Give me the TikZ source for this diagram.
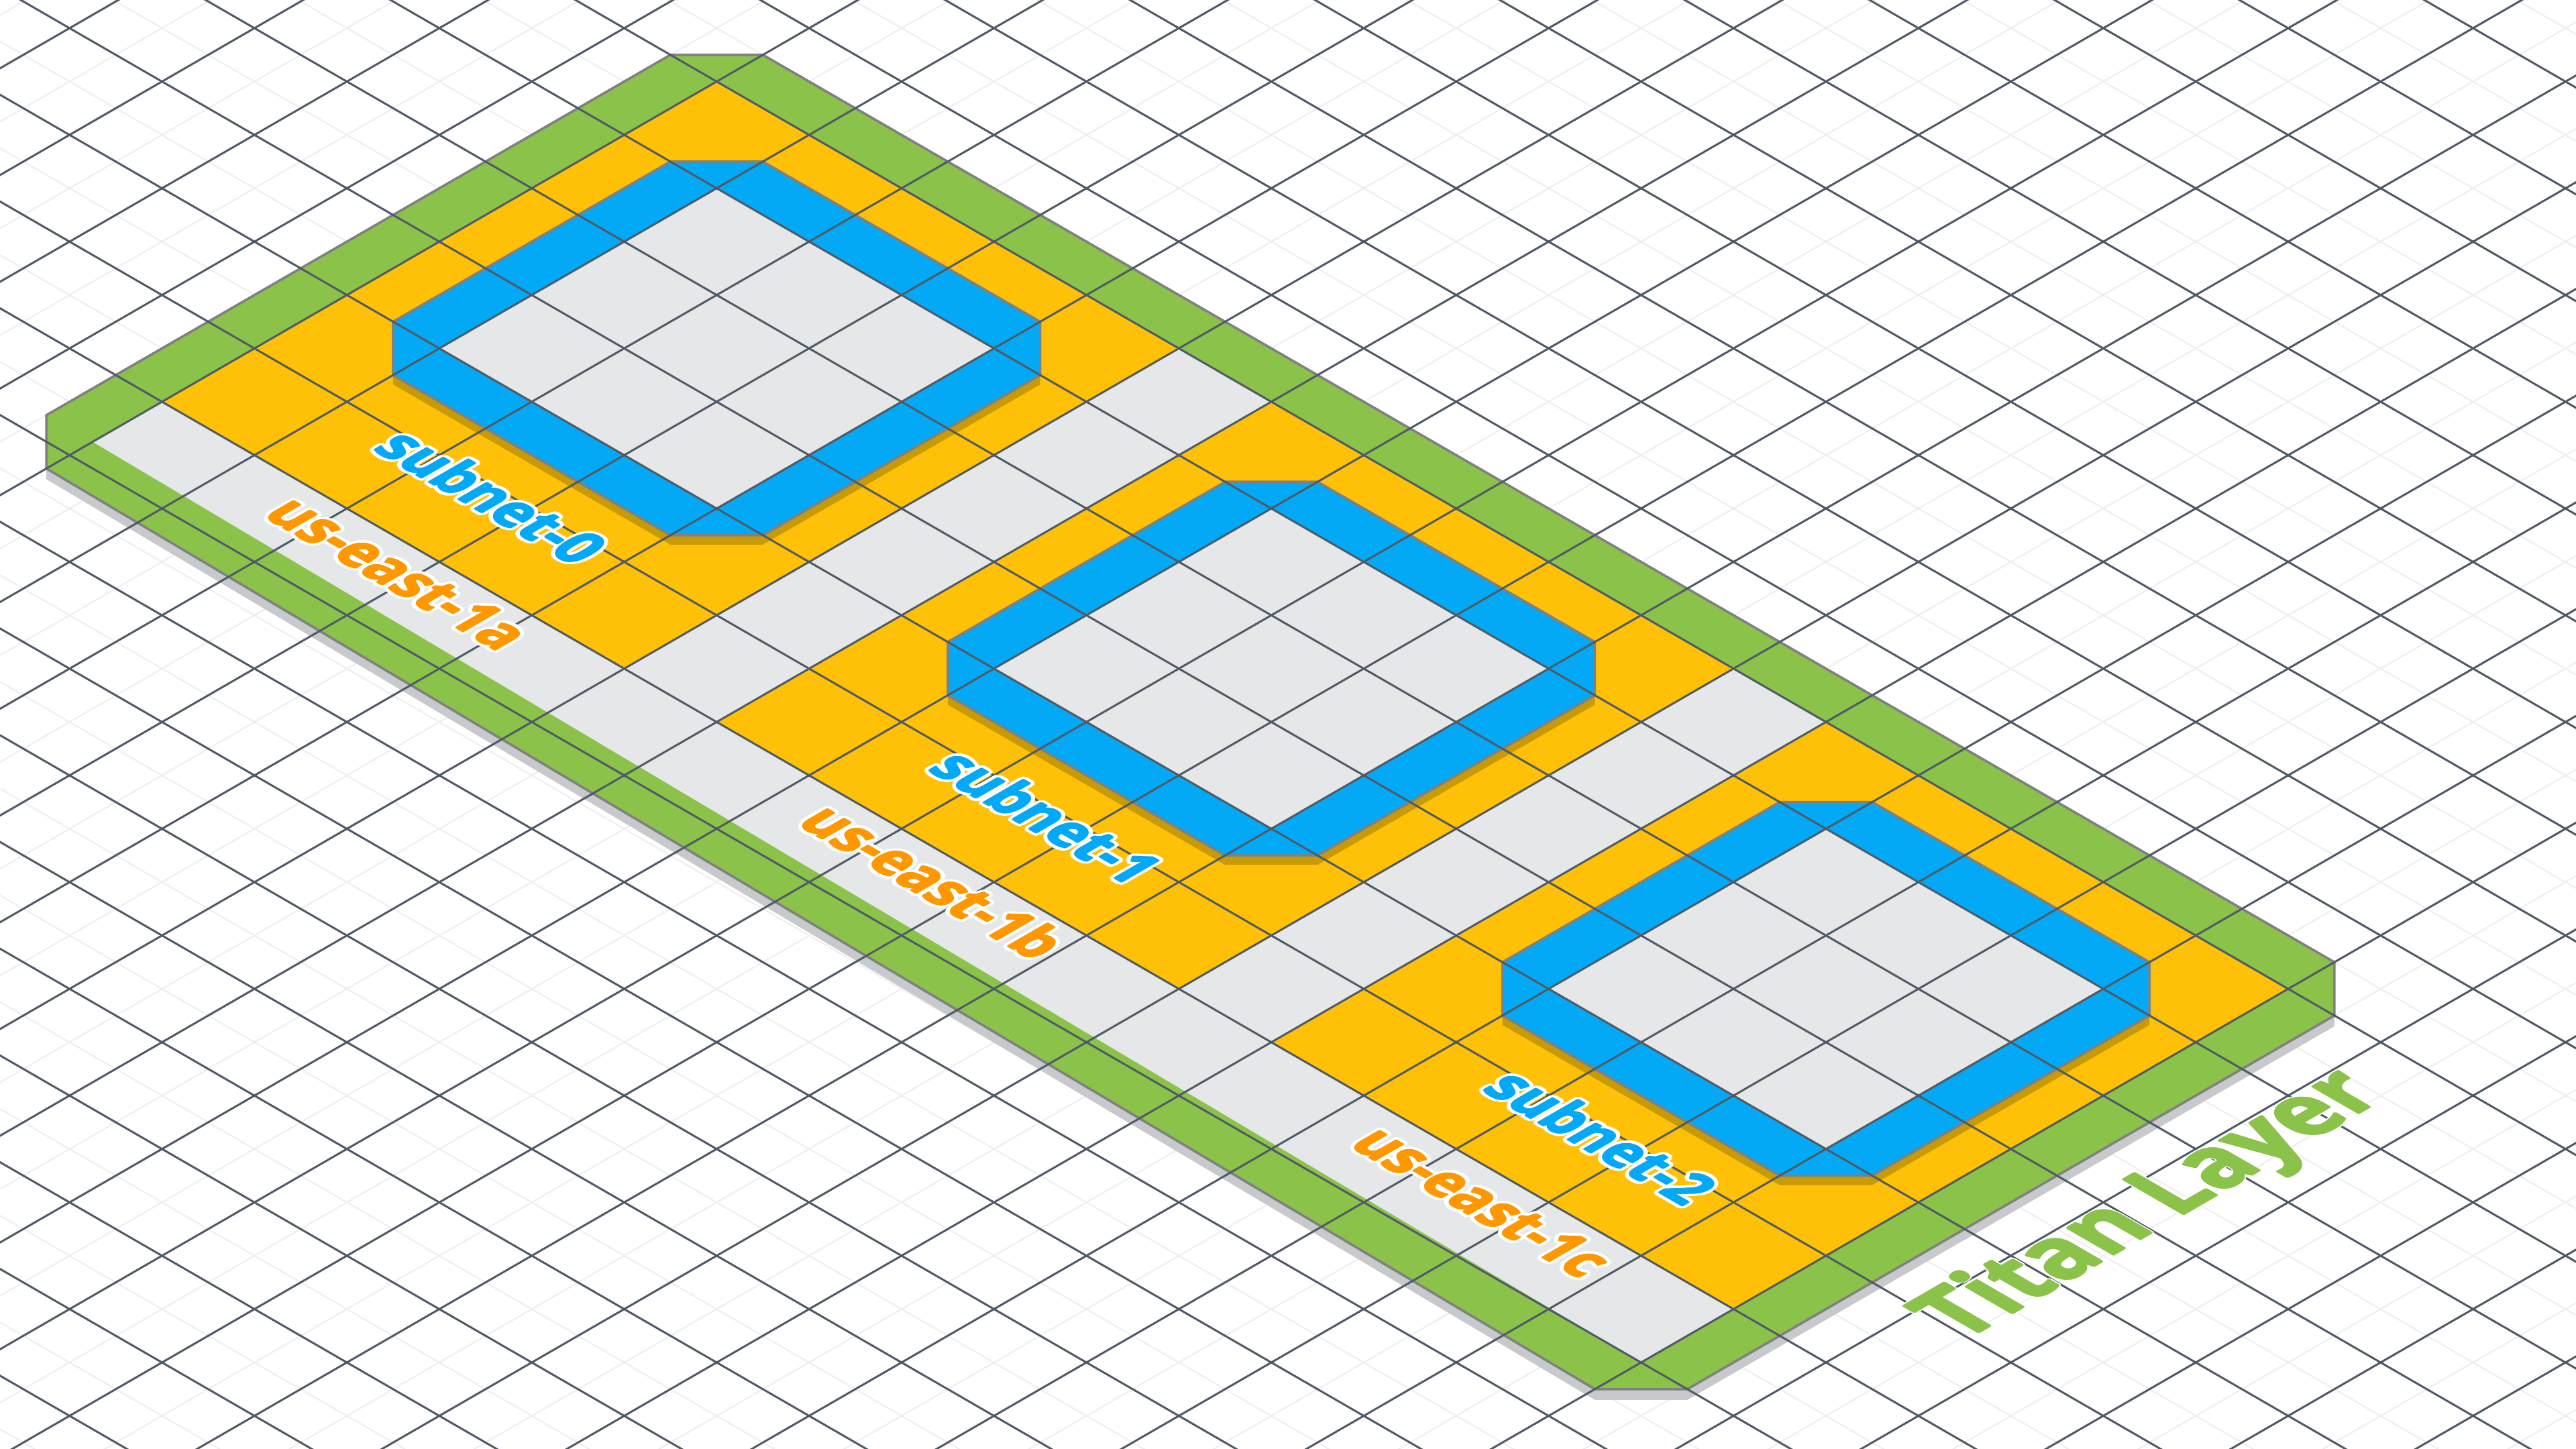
\documentclass[tikz,border=0pt]{standalone}
\usepackage{fontspec}
\setmainfont{Open Sans}
\definecolor{plgreen}{HTML}{8BC34A}
\definecolor{plamber}{HTML}{FFC107}
\definecolor{plblue}{HTML}{03A9F4}
\definecolor{plgrey}{HTML}{E6E7E9}
\definecolor{plorange}{HTML}{FF9800}
\definecolor{plshadow}{HTML}{C8C9CC}
\definecolor{blshadow}{HTML}{C89A06}
\definecolor{plstroke}{HTML}{808080}
\definecolor{gridmajor}{HTML}{505A66}
\definecolor{gridminor}{HTML}{EFEFEF}
\tikzset{
  minorline/.style={draw=gridminor, line width=0.55pt},
  majorline/.style={draw=gridmajor, line width=0.75pt},
  platestyle/.style={fill=plgreen, draw=plstroke, line width=0.9pt, line join=miter},
  frameblue/.style={fill=plblue, draw=plstroke, line width=0.9pt},
  lblfont/.style={font=\bfseries\fontsize{20}{24}\selectfont},
  titanfont/.style={font=\bfseries\fontsize{32.5}{38}\selectfont},
}
% #1 name, #2 cm entries, #3 position, #4 colour, #5 font style, #6 halo radius, #7 thickening radius, #8 text
\newcommand{\halonode}[8]{%
  \begin{scope}[cm={#2,(#3)}]
    \foreach \t in {0,22.5,...,337.5}
      \node[#5, text=white, inner sep=0pt, anchor=base west, transform shape] at (\t:#6) {#8};
    \foreach \t in {0,45,...,315}
      \node[#5, text=#4, inner sep=0pt, anchor=base west, transform shape] at (\t:#7) {#8};
    \node[#5, text=#4, inner sep=0pt, anchor=base west, transform shape] (#1) at (0,0) {#8};
  \end{scope}}
\begin{document}
\begin{tikzpicture}[x={(17.225pt,-9.945pt)}, y={(-17.225pt,-9.945pt)}]
\useasboundingbox[fill=white] (-267.075pt,10.5pt) rectangle (692.925pt,-529.5pt);
% minor grid
\begin{scope}
  \clip (-267.075pt,10.5pt) rectangle (692.925pt,-529.5pt);
  \foreach \i in {-9,...,47} \draw[minorline] (\i,-21) -- (\i,35);
  \foreach \j in {-21,...,35} \draw[minorline] (-9,\j) -- (47,\j);
\end{scope}
% plate shadow
\fill[plshadow, yshift=-4pt] (1,0) -- (35,0) -- (36,1) -- (36,15) -- (35,16) -- (1,15.5) -- (0,14.5) -- (0,1) -- cycle;
% plate
\path[platestyle] (1,0) -- (35,0) -- (36,1) -- (36,15) -- (35,16) -- (1,15.5) -- (0,14.5) -- (0,1) -- cycle;
% inner grey area
\fill[plgrey] (1,1) -- (35,1) -- (35,15) -- (1,14.5) -- cycle;
% availability zones
\foreach \z in {0,1,2}{
  \pgfmathsetmacro{\az}{1+12*\z}
  \fill[plamber] (\az,1) -- (\az+10,1) -- (\az+10,13) -- (\az,13) -- cycle;
}
% subnet frames
\foreach \z in {0,1,2}{
  \pgfmathsetmacro{\fa}{2+12*\z}
  \fill[blshadow, yshift=-3.5pt] (\fa+1,2) -- (\fa+7,2) -- (\fa+8,3) -- (\fa+8,9) -- (\fa+7,10) -- (\fa+1,10) -- (\fa,9) -- (\fa,3) -- cycle;
  \path[frameblue] (\fa+1,2) -- (\fa+7,2) -- (\fa+8,3) -- (\fa+8,9) -- (\fa+7,10) -- (\fa+1,10) -- (\fa,9) -- (\fa,3) -- cycle;
  \fill[plgrey] (\fa+1,3) -- (\fa+7,3) -- (\fa+7,9) -- (\fa+1,9) -- cycle;
}
% major grid
\begin{scope}
  \clip (-267.075pt,10.5pt) rectangle (692.925pt,-529.5pt);
  \foreach \i in {-9,-7,...,47} \draw[majorline] (\i,-21) -- (\i,35);
  \foreach \j in {-21,-19,...,35} \draw[majorline] (-9,\j) -- (47,\j);
\end{scope}
% labels
\halonode{sub0}{0.866,-0.5,0.970,0.56}{4.15,11.62}{plblue}{lblfont}{1.5pt}{0.3pt}{subnet-0}
\halonode{sub1}{0.866,-0.5,0.970,0.56}{16.15,11.62}{plblue}{lblfont}{1.5pt}{0.3pt}{subnet-1}
\halonode{sub2}{0.866,-0.5,0.970,0.56}{28.15,11.62}{plblue}{lblfont}{1.5pt}{0.3pt}{subnet-2}
\halonode{az0}{0.866,-0.5,0.970,0.56}{4.2,14.05}{plorange}{lblfont}{1.5pt}{0.3pt}{us-east-1a}
\halonode{az1}{0.866,-0.5,0.970,0.56}{15.75,14.05}{plorange}{lblfont}{1.5pt}{0.3pt}{us-east-1b}
\halonode{az2}{0.866,-0.5,0.970,0.56}{27.75,14.1}{plorange}{lblfont}{1.5pt}{0.3pt}{us-east-1c}
\halonode{titan}{0.866,0.5,-0.970,0.56}{38.1,11.15}{plgreen}{titanfont}{0.8pt}{0.4pt}{Titan Layer}
\end{tikzpicture}
\end{document}
